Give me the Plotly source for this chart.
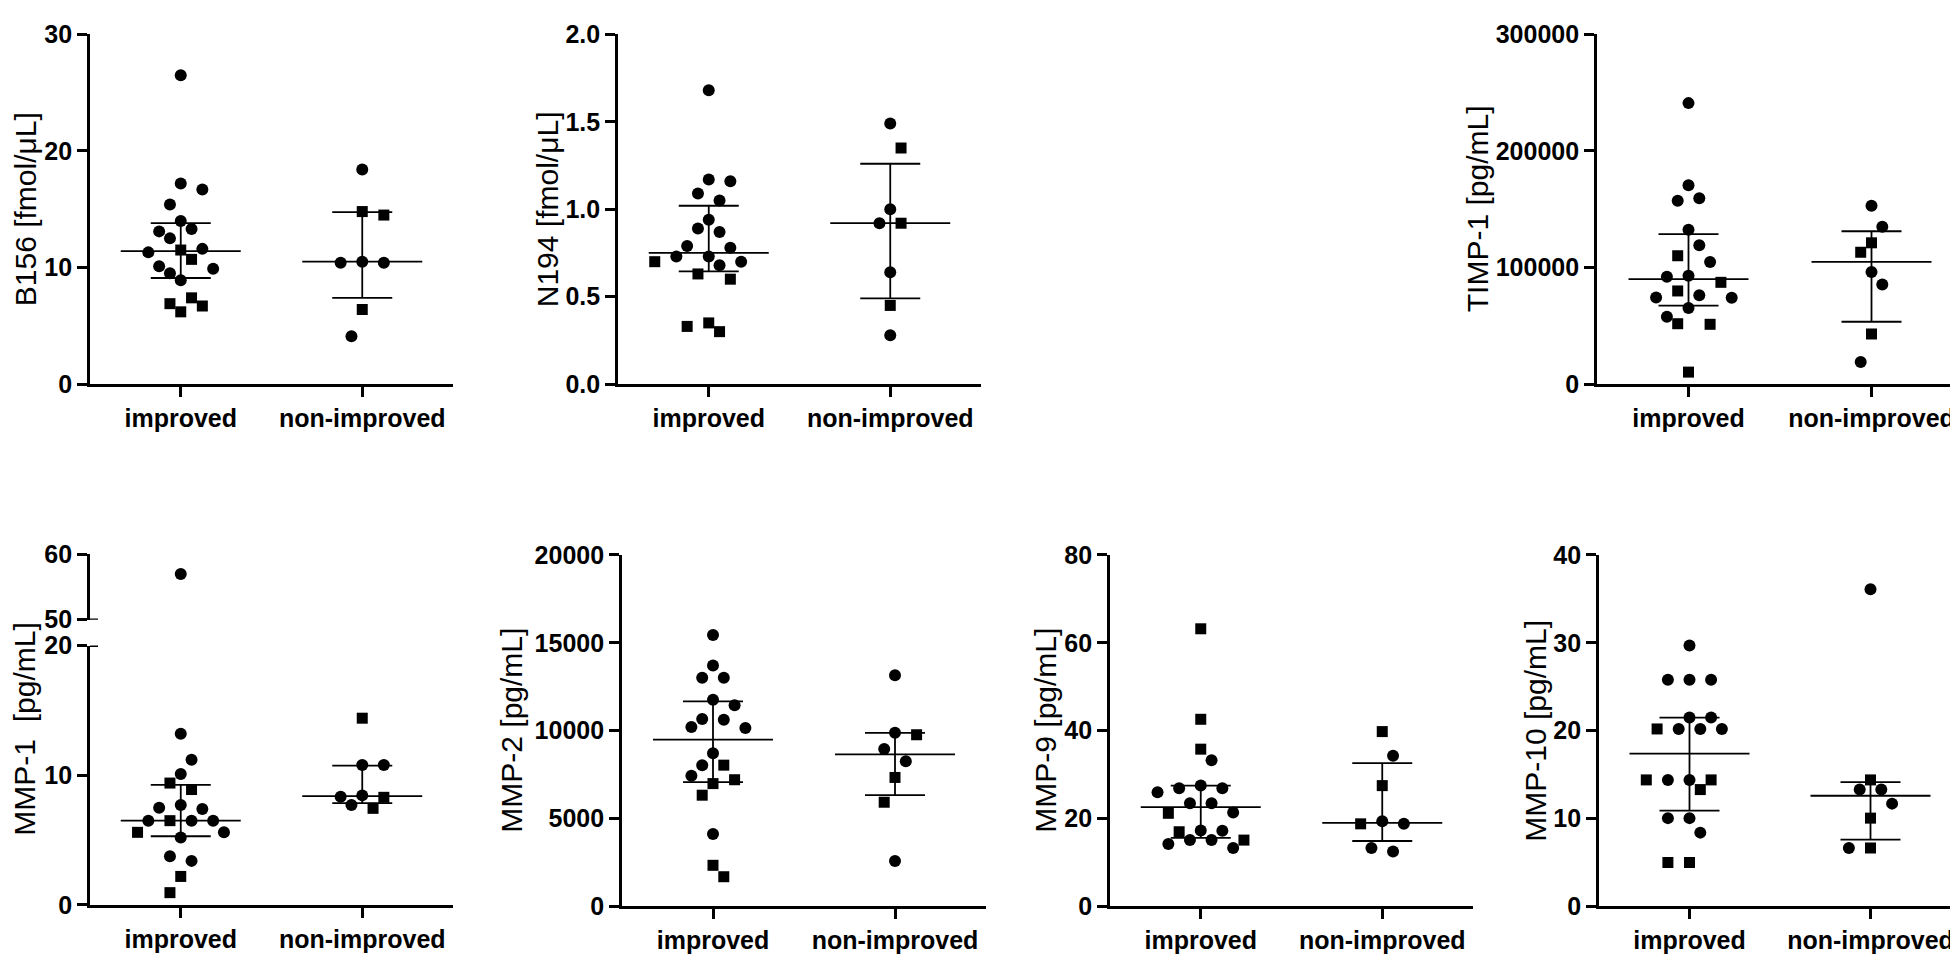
import plotly.graph_objects as go

# ---------------- data ----------------
categories = ["improved", "non-improved"]

# o = circle, s = square (one letter per value)
b156_improved = [26.5, 17.2, 16.7, 15.4, 14.0, 13.3, 12.5, 13.1, 11.5, 11.3, 11.6, 10.7, 10.1, 9.9, 9.5, 8.9, 6.9, 7.4, 6.7, 6.2]
b156_improved_sym = "oooooooosoosoooossss"
b156_non = [18.4, 14.8, 14.5, 10.5, 10.4, 10.4, 6.4, 4.1]
b156_non_sym = "ossoooso"
b156_summary = {"improved": (11.4, 9.1, 13.8), "non-improved": (10.5, 7.4, 14.75)}
b156_ticks = [0, 10, 20, 30]

n194_improved = [1.68, 1.16, 1.17, 1.09, 1.05, 0.94, 0.89, 0.87, 0.78, 0.79, 0.73, 0.73, 0.70, 0.70, 0.68, 0.63, 0.60, 0.35, 0.30, 0.33]
n194_improved_sym = "ooooooooooooosossss" + "s"
n194_non = [1.49, 1.35, 1.00, 0.92, 0.92, 0.64, 0.45, 0.28]
n194_non_sym = "osoosoSo".replace("S", "s")
n194_summary = {"improved": (0.75, 0.645, 1.02), "non-improved": (0.92, 0.49, 1.26)}
n194_ticks = [0.0, 0.5, 1.0, 1.5, 2.0]

timp1_improved = [241000, 170500, 159400, 157200, 132300, 119200, 110100, 104800, 92900, 92000, 87300, 79900, 76200, 74000, 74300, 65200, 57700, 51800, 51300, 10300]
timp1_improved_sym = "oooooosoooss" + "ooooo" + "sss"
timp1_non = [153000, 135000, 121200, 113100, 96200, 85400, 43000, 18900]
timp1_non_sym = "oossooso"
timp1_summary = {"improved": (90100, 67400, 128600), "non-improved": (104800, 53500, 131100)}
timp1_ticks = [0, 100000, 200000, 300000]

mmp1_improved = [57.0, 13.2, 11.2, 10.1, 9.4, 8.9, 7.7, 7.5, 7.4, 6.5, 6.5, 6.5, 6.5, 5.6, 5.6, 5.2, 3.75, 3.4, 2.2, 0.95]
mmp1_improved_sym = "oooossooosooosoooos" + "s"
mmp1_non = [14.4, 10.8, 10.8, 8.45, 8.35, 8.3, 7.45, 7.7]
mmp1_non_sym = "soooosso"
mmp1_summary = {"improved": (6.5, 5.3, 9.26), "non-improved": (8.4, 7.85, 10.75)}
mmp1_ticks_low = [0, 10, 20]
mmp1_ticks_high = [50, 60]

mmp2_improved = [15440, 13710, 13010, 13010, 11760, 11450, 10620, 10670, 10160, 10210, 8720, 8040, 8040, 7430, 7210, 6990, 6330, 4120, 2340, 1690]
mmp2_improved_sym = "oooooooooooo" + "s" + "o" + "sss" + "o" + "ss"
mmp2_non = [13160, 9770, 9880, 8960, 8260, 7340, 5930, 2580]
mmp2_non_sym = "osoooss" + "o"
mmp2_summary = {"improved": (9490, 7070, 11670), "non-improved": (8650, 6330, 9880)}
mmp2_ticks = [0, 5000, 10000, 15000, 20000]

mmp9_improved = [63.2, 42.6, 35.8, 33.3, 27.5, 26.9, 26.9, 26.0, 23.5, 23.5, 21.4, 21.2, 17.3, 17.2, 17.0, 15.1, 15.1, 15.1, 14.2, 13.3]
mmp9_improved_sym = "sssoooooooosoosoosoo"
mmp9_non = [39.8, 34.3, 27.5, 18.8, 18.8, 19.4, 13.3, 12.5]
mmp9_non_sym = "sossoooo"
mmp9_summary = {"improved": (22.6, 15.6, 27.5), "non-improved": (19.0, 14.9, 32.6)}
mmp9_ticks = [0, 20, 40, 60, 80]

mmp10_improved = [29.7, 25.8, 25.8, 25.8, 21.5, 21.5, 20.2, 20.2, 20.2, 20.2, 14.4, 14.4, 14.4, 14.4, 13.3, 10.05, 10.05, 8.4, 5.0, 5.0]
mmp10_improved_sym = "ooooooooso" + "oossso" + "ooss"
mmp10_non = [36.1, 14.4, 13.3, 13.3, 11.7, 10.05, 6.65, 6.65]
mmp10_non_sym = "osooosso"
mmp10_summary = {"improved": (17.4, 10.9, 21.5), "non-improved": (12.6, 7.6, 14.15)}
mmp10_ticks = [0, 10, 20, 30, 40]

# ---------------- layout geometry ----------------
W, H = 1958, 960
FONT = "Liberation Sans, Arial, sans-serif"
TICK_FONT = dict(family=FONT, size=25, color="black", weight="bold")
TITLE_FONT = dict(family=FONT, size=30, color="black")
LW = 2.7
TICKLEN = 10
CIRCLE, SQUARE = 12, 11
STEP_PX = 10.8     # horizontal spacing of swarm columns
VSEP_PX = 30.0     # vertical clearance needed inside one swarm column
ROW_PX = 7.0       # nearly equal values must sit at least two columns apart


def collide(dk, dy):
    dk, dy = abs(dk), abs(dy)
    if dk == 0:
        return dy < VSEP_PX
    if dk == 1:
        return dy < ROW_PX
    return False


panels = [
    dict(name="B156 [fmol/μL]", imp=b156_improved, imp_s=b156_improved_sym, non=b156_non, non_s=b156_non_sym,
         summ=b156_summary, ticks=b156_ticks, rng=[0, 30], fmt="d", x=(82, 445), y=(12.7, 373), tx=17),
    dict(name="N194 [fmol/μL]", imp=n194_improved, imp_s=n194_improved_sym, non=n194_non, non_s=n194_non_sym,
         summ=n194_summary, ticks=n194_ticks, rng=[0, 2], fmt=".1f", x=(610, 973), y=(12.7, 373), tx=539),
    dict(name="TIMP-1 [pg/mL]", imp=timp1_improved, imp_s=timp1_improved_sym, non=timp1_non, non_s=timp1_non_sym,
         summ=timp1_summary, ticks=timp1_ticks, rng=[0, 300000], fmt="d", x=(1589, 1955), y=(12.7, 373), tx=1469),
    dict(name="MMP-1  [pg/mL]", imp=mmp1_improved, imp_s=mmp1_improved_sym, non=mmp1_non, non_s=mmp1_non_sym,
         summ=mmp1_summary, ticks=mmp1_ticks_low, rng=[0, 20], fmt="d", x=(82, 445), y=(642.3, 909.5), tx=17,
         upper=dict(rng=[50, 60], ticks=mmp1_ticks_high, y=(548.3, 615.7)), title_y=(548.3, 909.5)),
    dict(name="MMP-2 [pg/mL]", imp=mmp2_improved, imp_s=mmp2_improved_sym, non=mmp2_non, non_s=mmp2_non_sym,
         summ=mmp2_summary, ticks=mmp2_ticks, rng=[0, 20000], fmt="d", x=(614, 978), y=(549, 911), tx=504),
    dict(name="MMP-9 [pg/mL]", imp=mmp9_improved, imp_s=mmp9_improved_sym, non=mmp9_non, non_s=mmp9_non_sym,
         summ=mmp9_summary, ticks=mmp9_ticks, rng=[0, 80], fmt="d", x=(1102, 1465), y=(549, 911), tx=1038),
    dict(name="MMP-10 [pg/mL]", imp=mmp10_improved, imp_s=mmp10_improved_sym, non=mmp10_non, non_s=mmp10_non_sym,
         summ=mmp10_summary, ticks=mmp10_ticks, rng=[0, 40], fmt="d", x=(1591, 1953), y=(549, 911), tx=1528),
]


def xdom(px):
    return [px[0] / W, px[1] / W]


def ydom(py):
    return [1 - py[1] / H, 1 - py[0] / H]


def swarm(values, ypx, unit_px):
    """Greedy beeswarm: offsets (in category units) so markers keep apart."""
    order = sorted(range(len(values)), key=lambda i: -values[i])
    placed = []
    offs = [0.0] * len(values)
    for i in order:
        y = ypx(values[i])
        npos = sum(1 for k, _ in placed if k > 0)
        nneg = sum(1 for k, _ in placed if k < 0)
        cands = [0]
        for m in range(1, 15):
            cands += [m, -m] if npos <= nneg else [-m, m]
        for k in cands:
            if not any(collide(k - kj, y - yj) for kj, yj in placed):
                break
        placed.append((k, y))
        offs[i] = k * STEP_PX / unit_px
    return offs


fig = go.Figure()
layout = dict(width=W, height=H, margin=dict(l=0, r=0, t=0, b=0), paper_bgcolor="white",
              plot_bgcolor="rgba(0,0,0,0)", showlegend=False, annotations=[], shapes=[])

axis_common = dict(showline=True, linecolor="black", linewidth=LW, ticks="outside", ticklen=TICKLEN,
                   tickwidth=LW, tickcolor="black", showgrid=False, zeroline=False, tickfont=TICK_FONT,
                   fixedrange=True)

for n, p in enumerate(panels, start=1):
    xa = "x" if n == 1 else f"x{n}"
    ya = "y" if n == 1 else f"y{n}"
    xkey = "xaxis" if n == 1 else f"xaxis{n}"
    ykey = "yaxis" if n == 1 else f"yaxis{n}"
    unit_px = (p["x"][1] - p["x"][0]) / 2.0
    h_px = p["y"][1] - p["y"][0]
    ppu = h_px / (p["rng"][1] - p["rng"][0])

    layout[xkey] = dict(axis_common, domain=xdom(p["x"]), range=[-0.5, 1.5], tickvals=[0, 1],
                        ticktext=categories, anchor=ya)
    layout[ykey] = dict(axis_common, domain=ydom(p["y"]), range=p["rng"], tickvals=p["ticks"],
                        tickformat=p["fmt"], anchor=xa)

    up = p.get("upper")
    if up:
        up_ppu = (up["y"][1] - up["y"][0]) / (up["rng"][1] - up["rng"][0])

        def ypx(v, p=p, up=up, ppu=ppu, up_ppu=up_ppu):
            if v >= up["rng"][0]:
                return (p["y"][1] - up["y"][1]) + (v - up["rng"][0]) * up_ppu
            return v * ppu
        layout["yaxis8"] = dict(axis_common, domain=ydom(up["y"]), range=up["rng"], tickvals=up["ticks"],
                                tickformat="d", anchor=xa)
        # axis-break marks extending to the right of the axis line
        frac = 8 / (p["x"][1] - p["x"][0])
        layout["shapes"].append(dict(type="line", xref=f"{xa} domain", yref="y8", x0=0, x1=frac,
                                     y0=up["rng"][0], y1=up["rng"][0], line=dict(color="black", width=LW)))
        layout["shapes"].append(dict(type="line", xref=f"{xa} domain", yref=ya, x0=0, x1=frac,
                                     y0=p["rng"][1], y1=p["rng"][1], line=dict(color="black", width=LW)))
    else:
        def ypx(v, ppu=ppu):
            return v * ppu

    for g, (vals, syms) in enumerate([(p["imp"], p["imp_s"]), (p["non"], p["non_s"])]):
        offs = swarm(vals, ypx, unit_px)
        xs = [g + o for o in offs]
        symbols = ["square" if s == "s" else "circle" for s in syms]
        sizes = [SQUARE if s == "s" else CIRCLE for s in syms]
        lo_idx = [i for i, v in enumerate(vals) if not (up and v >= up["rng"][0])]
        hi_idx = [i for i, v in enumerate(vals) if up and v >= up["rng"][0]]
        for idx, yaxis in ((lo_idx, ya), (hi_idx, "y8")):
            if not idx:
                continue
            fig.add_trace(go.Scatter(x=[xs[i] for i in idx], y=[vals[i] for i in idx], mode="markers",
                                     xaxis=xa, yaxis=yaxis, cliponaxis=False, hoverinfo="y",
                                     marker=dict(color="black", opacity=1, symbol=[symbols[i] for i in idx],
                                                 size=[sizes[i] for i in idx], line=dict(width=0))))

        center, lo, hi = p["summ"][categories[g]]
        half_c = 60 / unit_px
        half_cap = 30 / unit_px
        lx = [g - half_c, g + half_c, None, g, g, None, g - half_cap, g + half_cap, None, g - half_cap, g + half_cap]
        ly = [center, center, None, lo, hi, None, lo, lo, None, hi, hi]
        fig.add_trace(go.Scatter(x=lx, y=ly, mode="lines", xaxis=xa, yaxis=ya, cliponaxis=False,
                                 hoverinfo="skip", line=dict(color="black", width=1.8)))

    ty = p.get("title_y", p["y"])
    layout["annotations"].append(dict(text=p["name"], textangle=-90, xref="paper", yref="paper",
                                      x=p["tx"] / W, y=1 - (ty[0] + ty[1]) / 2 / H, xanchor="center",
                                      yanchor="middle", showarrow=False, font=TITLE_FONT))

fig.update_layout(**layout)
fig.write_html("out.html")
